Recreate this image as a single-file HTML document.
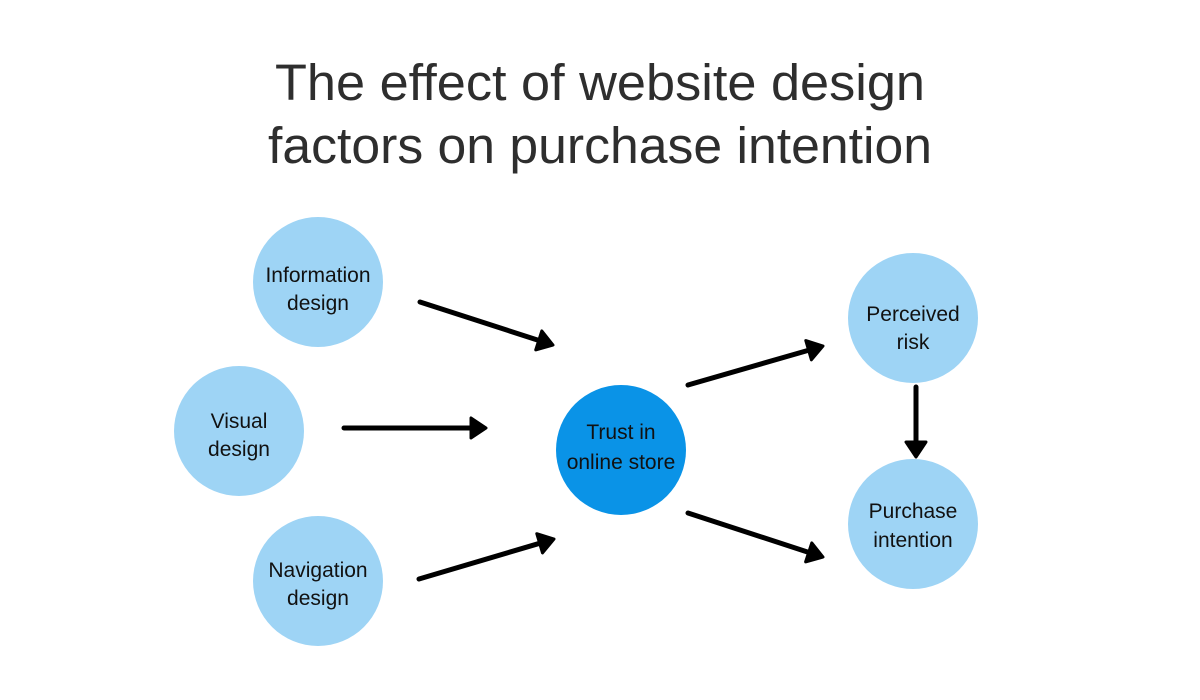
<!DOCTYPE html>
<html>
<head>
<meta charset="utf-8">
<style>
  html, body { margin: 0; padding: 0; background: #ffffff; }
  svg { display: block; }
  .t { font-family: "Liberation Sans", sans-serif; fill: #2e2e2e; font-size: 51px; }
  .n { font-family: "Liberation Sans", sans-serif; fill: #111111; font-size: 21px; text-anchor: middle; }
  .ln { stroke: #000; stroke-width: 5; stroke-linecap: round; fill: none; }
  .hd { fill: #000; stroke: #000; stroke-width: 3; stroke-linejoin: round; }
</style>
</head>
<body>
<svg width="1200" height="700" viewBox="0 0 1200 700" xmlns="http://www.w3.org/2000/svg">
  <rect width="1200" height="700" fill="#ffffff"/>

  <!-- Title -->
  <text class="t" x="275" y="100" textLength="650" lengthAdjust="spacingAndGlyphs">The effect of website design</text>
  <text class="t" x="268" y="163" textLength="664" lengthAdjust="spacingAndGlyphs">factors on purchase intention</text>

  <!-- Circles -->
  <circle cx="318" cy="282" r="65" fill="#9ed4f5"/>
  <circle cx="239" cy="431" r="65" fill="#9ed4f5"/>
  <circle cx="318" cy="581" r="65" fill="#9ed4f5"/>
  <circle cx="621" cy="450" r="65" fill="#0a93e7"/>
  <circle cx="913" cy="318" r="65" fill="#9ed4f5"/>
  <circle cx="913" cy="524" r="65" fill="#9ed4f5"/>

  <!-- Labels -->
  <text class="n" x="318" y="282">Information</text>
  <text class="n" x="318" y="310">design</text>

  <text class="n" x="239" y="428">Visual</text>
  <text class="n" x="239" y="456">design</text>

  <text class="n" x="318" y="577">Navigation</text>
  <text class="n" x="318" y="605">design</text>

  <text class="n" x="621" y="439">Trust in</text>
  <text class="n" x="621" y="469">online store</text>

  <text class="n" x="913" y="321">Perceived</text>
  <text class="n" x="913" y="349">risk</text>

  <text class="n" x="913" y="518">Purchase</text>
  <text class="n" x="913" y="547">intention</text>

  <!-- Arrows -->
  <line class="ln" x1="420" y1="302" x2="539" y2="340.5"/>
  <polygon class="hd" points="553,345 535.7,349.9 541.8,330.9"/>

  <line class="ln" x1="344" y1="428" x2="472" y2="428"/>
  <polygon class="hd" points="486,428 471,418 471,438"/>

  <line class="ln" x1="419" y1="579" x2="540" y2="543.2"/>
  <polygon class="hd" points="554,539 542.5,552.9 536.8,533.7"/>

  <line class="ln" x1="688" y1="385" x2="809" y2="350.1"/>
  <polygon class="hd" points="823,346 811.4,359.8 805.8,340.6"/>

  <line class="ln" x1="688" y1="513" x2="809" y2="552.5"/>
  <polygon class="hd" points="823,557 805.6,561.9 811.8,542.9"/>

  <line class="ln" x1="916" y1="387" x2="916" y2="443"/>
  <polygon class="hd" points="916,457 906,442 926,442"/>
</svg>
</body>
</html>
